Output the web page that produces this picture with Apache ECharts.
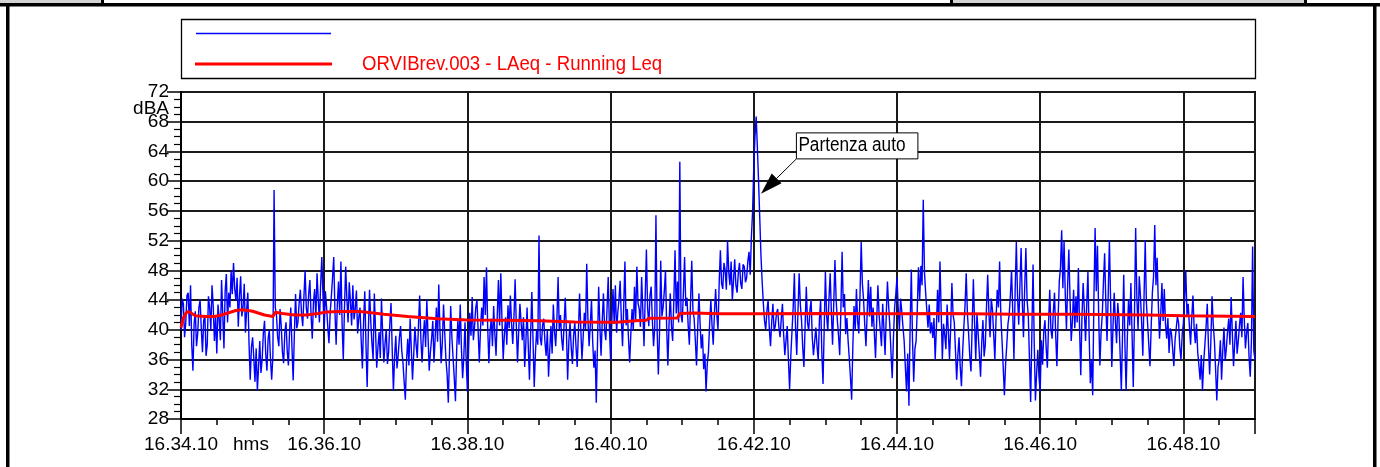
<!DOCTYPE html>
<html><head><meta charset="utf-8">
<script src="https://cdn.jsdelivr.net/npm/echarts@6/dist/echarts.min.js"></script>
<style>html,body{margin:0;padding:0;background:#fff;overflow:hidden}#c{width:1380px;height:467px}</style>
</head><body><div id="c"></div>
<script>
// ---------- data ----------
const startClock = [16, 34, 10];          // h, m, s at x = 0
const xMaxSeconds = 900;                  // 15 minutes shown
const xLabelStep = 120;                   // label every 2 minutes
const xMinorStep = 30;                    // tick every 30 s
const yMin = 28, yMax = 72, yStep = 4;
const yUnit = 'dBA';
const xUnit = 'hms';
const blueStepSeconds = 1;
const blueValues = [
40.0,44.2,43.5,39.0,41.0,44.6,45.0,40.5,46.0,38.0,34.5,40.8,42.5,37.8,39.5,43.0,44.0,40.2,37.0,41.2,42.0,36.5,38.0,44.5,43.0,40.0,46.0,43.2,38.5,41.8,
36.8,43.4,41.5,38.6,46.7,42.0,37.5,45.2,47.5,41.0,45.0,43.0,47.9,44.8,49.0,45.6,44.0,47.0,40.4,44.5,47.2,41.8,43.0,46.2,39.6,42.6,45.0,38.2,33.3,37.6,
39.0,36.2,33.0,37.5,31.8,35.0,38.5,34.2,36.0,39.5,41.2,36.8,34.5,38.8,40.0,36.0,33.3,36.5,58.8,43.0,42.0,39.0,37.8,42.8,40.5,37.0,35.5,39.6,41.0,37.2,
35.2,39.8,43.0,37.6,33.2,39.4,44.8,40.2,41.0,43.6,45.4,42.2,40.5,44.4,48.0,43.0,41.5,44.8,46.7,42.0,38.8,43.7,45.5,41.6,47.6,44.1,41.0,46.0,49.8,44.5,
40.0,45.2,43.0,40.4,38.2,42.3,44.5,47.0,49.8,42.5,38.0,43.4,46.5,42.0,49.2,40.8,36.0,43.0,48.5,44.2,41.0,46.4,43.8,40.6,46.0,41.4,42.8,45.3,39.5,41.6,
43.0,38.6,34.8,41.0,45.2,38.0,32.3,39.8,45.4,41.2,38.2,36.0,44.9,40.0,34.9,37.6,39.7,36.2,44.2,39.4,35.6,38.2,40.1,35.4,37.0,40.8,43.6,37.3,31.8,36.4,
39.2,34.8,36.6,38.9,40.5,37.2,35.6,33.0,30.6,35.8,38.8,35.2,41.5,37.4,33.3,36.6,40.4,38.0,36.2,40.6,44.6,38.8,35.6,39.0,41.3,37.7,44.1,39.2,34.5,37.0,
38.8,41.2,35.6,39.0,43.0,38.4,46.1,40.0,35.5,38.3,43.4,39.6,36.0,34.0,30.2,36.8,43.2,39.0,36.2,33.5,30.4,37.2,41.3,38.0,43.4,37.5,33.5,36.4,41.0,35.8,
31.7,37.4,42.3,39.2,44.4,38.6,40.5,43.0,44.0,39.8,35.6,40.2,43.0,40.6,47.1,42.0,48.4,40.4,35.5,39.8,41.5,37.8,43.2,39.5,36.5,41.8,46.7,40.6,47.6,41.2,
36.0,39.4,41.7,38.0,43.3,40.2,44.6,40.9,38.1,41.6,46.8,40.4,35.6,39.9,43.5,41.0,38.6,41.7,35.0,38.2,43.0,37.8,33.3,39.5,45.1,38.6,32.3,36.8,40.0,38.0,
52.7,39.0,37.9,40.6,41.5,38.3,36.5,40.0,33.7,37.3,40.5,36.8,43.4,39.8,37.8,41.4,47.1,40.0,42.0,38.8,37.2,40.6,44.3,39.6,33.3,38.4,41.0,37.6,35.4,39.2,
41.0,37.8,35.0,39.6,44.9,40.2,36.0,39.0,42.3,40.1,48.9,41.4,37.8,40.8,44.0,38.4,34.9,37.2,30.2,38.0,45.8,40.6,36.5,41.2,44.9,40.0,38.6,42.8,47.1,40.4,
35.8,41.0,45.5,40.8,46.0,39.6,42.3,44.0,46.6,41.4,37.8,43.2,49.2,40.6,42.8,38.8,35.6,39.6,42.8,39.9,45.8,41.3,48.5,43.6,42.8,40.4,47.1,42.6,37.8,44.4,
50.8,43.0,40.5,44.6,45.8,41.2,37.8,40.4,55.4,40.0,34.0,39.6,49.3,41.8,43.0,45.2,48.0,40.2,35.2,40.9,44.9,40.5,38.5,44.0,50.7,42.2,46.5,41.0,62.6,42.0,
41.0,45.0,49.8,43.2,44.3,40.6,38.0,43.8,49.3,42.6,41.5,38.6,35.2,40.2,44.9,40.8,37.5,39.4,34.7,36.8,31.7,35.4,37.0,40.8,44.0,40.6,38.0,42.2,45.5,42.0,
40.0,46.4,50.7,46.2,45.5,49.0,48.0,45.4,52.0,47.8,46.0,49.2,44.0,46.6,49.5,46.0,45.0,47.6,49.0,46.3,45.5,48.8,48.5,46.4,47.0,49.2,50.5,47.4,52.5,56.0,
62.0,66.0,68.7,64.5,60.0,55.0,50.0,46.5,43.5,41.2,40.0,42.6,44.0,40.2,37.8,41.0,43.5,39.8,40.5,42.2,42.8,40.4,39.0,41.4,43.5,39.4,36.6,38.6,40.5,36.0,
32.0,36.4,39.8,43.0,47.6,40.2,36.6,42.4,47.6,43.4,41.3,37.6,35.0,40.6,45.8,41.0,39.9,42.6,44.0,39.0,36.6,38.4,40.3,37.8,35.9,41.4,44.0,37.0,32.7,40.2,
47.8,42.0,39.8,44.2,47.6,42.4,38.0,43.6,49.4,44.0,41.3,39.2,36.6,42.8,50.5,43.0,44.8,39.4,41.6,38.6,36.2,33.6,30.6,37.8,43.2,40.0,45.5,41.2,39.5,44.6,
51.8,46.2,44.0,40.6,37.8,42.2,46.7,41.8,45.8,40.4,43.0,39.6,36.2,41.4,46.0,42.0,39.9,37.8,43.5,40.2,36.6,42.0,46.5,43.2,40.5,36.8,33.5,38.8,43.0,44.8,
47.1,43.0,40.0,44.2,42.5,40.4,38.5,35.0,31.7,36.8,29.8,40.5,48.1,38.6,33.0,37.4,38.5,42.8,48.4,44.0,48.6,46.0,57.5,47.8,45.0,42.6,40.3,43.4,39.5,41.0,
38.9,41.6,36.0,40.2,45.4,41.0,49.2,42.6,36.0,40.8,39.3,37.4,43.4,39.8,36.0,40.4,46.3,42.0,41.0,37.2,33.3,36.6,39.0,35.0,32.4,37.0,40.3,43.2,47.6,42.2,
39.5,36.4,34.4,40.6,46.8,41.0,36.0,42.2,39.5,36.8,33.7,38.2,41.3,36.4,38.0,43.0,47.4,42.4,39.0,44.2,42.7,39.4,36.0,41.6,45.4,43.0,49.2,42.0,38.6,35.0,
31.2,35.4,38.0,40.8,42.0,44.6,48.0,42.4,36.0,45.2,51.8,44.6,40.7,46.0,51.0,43.8,39.0,45.6,51.0,44.0,42.0,36.0,30.3,39.4,48.8,38.2,30.5,34.2,37.3,33.6,
31.7,38.6,35.3,39.8,41.3,37.6,34.9,40.8,45.4,40.0,38.8,42.4,45.0,39.2,35.1,41.6,46.5,48.4,53.4,45.6,51.9,44.8,40.0,46.0,50.8,44.2,38.5,41.2,45.4,40.2,
44.5,41.0,48.3,40.2,33.9,41.8,46.3,42.6,38.5,43.4,47.8,39.4,32.8,36.0,31.2,44.0,53.7,45.2,51.3,42.0,35.2,39.6,42.0,46.4,50.3,43.6,38.5,44.8,52.1,43.8,
35.0,40.4,45.0,41.2,38.2,43.6,41.5,36.6,31.8,39.4,47.4,38.0,31.8,38.8,44.0,40.6,46.3,39.2,32.3,42.0,53.7,44.4,40.0,47.2,44.6,41.0,36.5,44.2,52.0,43.6,
40.9,38.0,35.1,40.4,45.0,47.2,54.1,46.0,49.7,43.4,38.8,42.0,46.3,41.2,45.5,40.8,38.8,41.6,36.9,40.2,39.5,37.4,35.1,38.6,38.5,41.8,40.9,37.6,36.0,39.4,
40.9,44.2,48.0,42.0,43.5,40.6,38.0,41.6,44.6,40.2,38.2,40.8,37.0,35.2,33.3,36.6,31.8,35.6,38.0,40.4,43.5,37.8,34.0,38.4,44.5,40.8,38.5,34.6,30.5,35.0,
36.0,38.6,33.3,37.2,40.3,35.8,37.5,39.8,41.5,38.0,44.4,39.6,35.1,38.2,41.2,36.8,38.5,40.6,42.3,39.0,47.1,41.4,37.5,39.6,40.9,36.4,33.7,38.4,51.2,37.2,
36.0
];
const redTimes  = [0,2,4,6,8,12,20,28,34,40,46,52,60,70,77,78,79,85,95,105,115,122,135,150,170,190,215,240,270,300,330,365,384,390,392,416,418,430,451,480,540,600,640,700,750,810,840,900];
const redValues = [40.3,41.6,42.2,42.5,42.3,41.9,41.8,41.8,42.0,42.3,42.6,42.7,42.5,42.0,41.8,41.8,42.35,42.2,42.0,42.0,42.2,42.4,42.45,42.45,42.1,41.8,41.5,41.33,41.3,41.22,41.05,41.03,41.25,41.3,41.55,41.6,42.2,42.25,42.15,42.15,42.2,42.15,42.2,42.1,42.1,42.0,41.9,41.8];
const seriesNames = ['', 'ORVIBrev.003 - LAeq - Running Leq'];
const seriesColors = ['#0000ff', '#ff0000'];
const annotationText = 'Partenza auto';
const annotationTip = [486, 58.3];      // arrow tip (s, dB)
const annotationAnchor = [515.7, 63.0]; // box bottom-left corner (s, dB)

// ---------- build ----------
const FONT = "'Liberation Sans', Arial, sans-serif";
const pad2 = n => (n < 10 ? '0' : '') + n;
function clockLabel(v) {
  if (v % xLabelStep !== 0 || v >= xMaxSeconds) return '';
  let s = startClock[0] * 3600 + startClock[1] * 60 + startClock[2] + v;
  const h = Math.floor(s / 3600); s -= h * 3600;
  const m = Math.floor(s / 60); s -= m * 60;
  return h + '.' + pad2(m) + '.' + pad2(s);
}
const blueData = blueValues.map((v, i) => [i * blueStepSeconds, v]);
const redData = redTimes.map((t, i) => [t, redValues[i]]);

const chart = echarts.init(document.getElementById('c'), null, { renderer: 'canvas' });
const GRID = { left: 181, top: 92, width: 1074, height: 327 };

chart.setOption({
  animation: false,
  backgroundColor: '#ffffff',
  textStyle: { fontFamily: FONT },
  grid: Object.assign({ show: true, borderColor: '#000', borderWidth: 2, backgroundColor: 'transparent' }, GRID),
  xAxis: [{
    type: 'value', min: 0, max: xMaxSeconds, interval: xLabelStep,
    axisLine: { show: true, onZero: false, lineStyle: { color: '#000', width: 2 } },
    axisTick: { show: true, length: 15, lineStyle: { color: '#000', width: 1.5 } },
    axisLabel: { formatter: clockLabel, color: '#000', fontSize: 19, fontFamily: FONT, margin: 16 },
    splitLine: { show: true, lineStyle: { color: '#1a1a1a', width: 2 } }
  }, {
    type: 'value', min: 0, max: xMaxSeconds, interval: xMinorStep, position: 'bottom',
    axisLine: { show: false },
    axisTick: { show: true, length: 6, lineStyle: { color: '#000', width: 1.5 } },
    axisLabel: { show: false }, splitLine: { show: false }
  }],
  yAxis: {
    type: 'value', min: yMin, max: yMax, interval: yStep,
    axisLine: { show: true, onZero: false, lineStyle: { color: '#000', width: 2 } },
    axisTick: { show: true, length: 14, lineStyle: { color: '#000', width: 1.5 } },
    minorTick: { show: true, splitNumber: yStep, length: 7, lineStyle: { color: '#000', width: 1.2 } },
    axisLabel: { color: '#000', fontSize: 19, fontFamily: FONT, margin: 12 },
    splitLine: { show: true, lineStyle: { color: '#1a1a1a', width: 2 } }
  },
  series: [{
    name: seriesNames[0], type: 'line', data: blueData, showSymbol: false, symbol: 'none',
    lineStyle: { color: seriesColors[0], width: 1.4 }, z: 3
  }, {
    name: seriesNames[1], type: 'line', data: redData, showSymbol: false, symbol: 'none',
    lineStyle: { color: seriesColors[1], width: 3 }, z: 4
  }]
});

// ---------- decorations (frame, legend, unit labels, annotation) ----------
const tip = chart.convertToPixel({ gridIndex: 0 }, annotationTip);
const anc = chart.convertToPixel({ gridIndex: 0 }, annotationAnchor);
const dx = tip[0] - anc[0], dy = tip[1] - anc[1];
const len = Math.sqrt(dx * dx + dy * dy), ux = dx / len, uy = dy / len;
const headL = 22, headW = 7;
const bx = tip[0] - ux * headL, by = tip[1] - uy * headL;
const nx = -uy, ny = ux;
const unitY = chart.convertToPixel({ yAxisIndex: 0 }, 69.8);

chart.setOption({
  graphic: [
    // outer report frame
    { type: 'rect', shape: { x: 0, y: 0, width: 101, height: 4 }, style: { fill: '#d4d4d4' }, silent: true },
    { type: 'rect', shape: { x: 952, y: 0, width: 353, height: 4 }, style: { fill: '#d4d4d4' }, silent: true },
    { type: 'rect', shape: { x: 101, y: 0, width: 3, height: 5 }, style: { fill: '#000' }, silent: true },
    { type: 'rect', shape: { x: 950, y: 0, width: 3, height: 5 }, style: { fill: '#000' }, silent: true },
    { type: 'rect', shape: { x: 1304, y: 0, width: 3, height: 5 }, style: { fill: '#000' }, silent: true },
    { type: 'rect', shape: { x: 0, y: 3, width: 1380, height: 3.5 }, style: { fill: '#000' }, silent: true },
    { type: 'rect', shape: { x: 6, y: 3, width: 3.5, height: 464 }, style: { fill: '#000' }, silent: true },
    { type: 'rect', shape: { x: 1373, y: 3, width: 3.5, height: 464 }, style: { fill: '#000' }, silent: true },
    // legend box
    { type: 'rect', shape: { x: 181.5, y: 19.5, width: 1074, height: 59 }, style: { fill: '#fff', stroke: '#000', lineWidth: 1.3 }, silent: true },
    { type: 'line', shape: { x1: 196, y1: 33.5, x2: 331, y2: 33.5 }, style: { stroke: seriesColors[0], lineWidth: 1.5 }, silent: true },
    { type: 'line', shape: { x1: 195, y1: 64, x2: 332, y2: 64 }, style: { stroke: seriesColors[1], lineWidth: 3 }, silent: true },
    { type: 'text', x: 362, y: 64, scaleX: 0.93, style: { text: seriesNames[1], font: '20px ' + FONT, fill: seriesColors[1], verticalAlign: 'middle', textVerticalAlign: 'middle' }, silent: true },
    // unit labels
    { type: 'text', x: 169, y: unitY, style: { text: yUnit, font: '19px ' + FONT, fill: '#000', align: 'right', textAlign: 'right', verticalAlign: 'middle', textVerticalAlign: 'middle' }, silent: true, z: 10 },
    { type: 'text', x: 233, y: 445, style: { text: xUnit, font: '19px ' + FONT, fill: '#000', verticalAlign: 'middle', textVerticalAlign: 'middle' }, silent: true },
    // annotation
    { type: 'line', shape: { x1: anc[0], y1: anc[1], x2: bx, y2: by }, style: { stroke: '#000', lineWidth: 1 }, silent: true, z: 20 },
    { type: 'polygon', shape: { points: [[tip[0], tip[1]], [bx + nx * headW, by + ny * headW], [bx - nx * headW, by - ny * headW]] }, style: { fill: '#000' }, silent: true, z: 20 },
    { type: 'rect', shape: { x: anc[0], y: anc[1] - 26, width: 121.5, height: 26 }, style: { fill: '#fff', stroke: '#000', lineWidth: 1 }, silent: true, z: 20 },
    { type: 'text', x: anc[0] + 2, y: anc[1] - 13, scaleX: 0.86, style: { text: annotationText, font: '20px ' + FONT, fill: '#000', verticalAlign: 'middle', textVerticalAlign: 'middle' }, silent: true, z: 21 }
  ]
});
</script></body></html>
